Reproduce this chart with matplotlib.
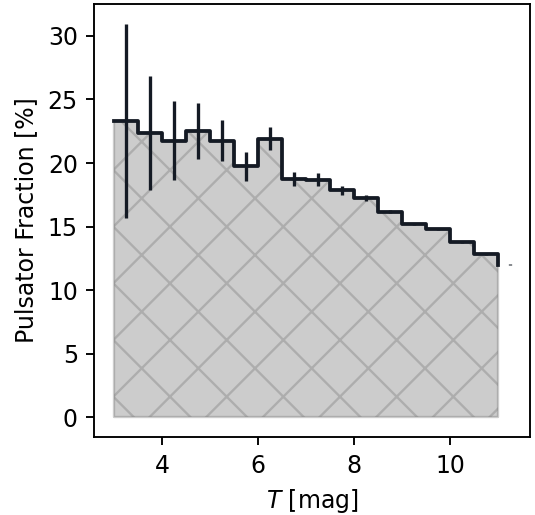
import numpy as np
import matplotlib
matplotlib.use('Agg')
import matplotlib.pyplot as plt

# bin edges in T magnitude and pulsator fraction per bin
t_edges = [3.0, 3.5, 4.0, 4.5, 5.0, 5.5, 6.0, 6.5, 7.0, 7.5, 8.0, 8.5, 9.0, 9.5, 10.0, 10.5, 11.0]
frac = [23.3, 22.35, 21.75, 22.5, 21.75, 19.75, 21.9, 18.75, 18.7, 17.85, 17.25, 16.15, 15.2, 14.8, 13.75, 12.85, 12.0]
frac_err = [7.65, 4.5, 3.1, 2.2, 1.6, 1.15, 0.9, 0.58, 0.5, 0.33, 0.22, 0.12, 0.1, 0.08, 0.07, 0.06, 0.05]

DPI = 170
fig = plt.figure(figsize=(535 / DPI, 515 / DPI), dpi=DPI)
ax = fig.add_axes([0.1766, 0.1515, 0.8141, 0.8405])

t_edges = np.array(t_edges)
ax.fill_between(t_edges, frac, step='post', color='gray', alpha=0.4, hatch='x')
ax.step(t_edges, frac, where='post', color='#141a24', lw=1.6)
ax.errorbar(t_edges + 0.25, frac, yerr=frac_err, fmt='none', ecolor='#141a24', elinewidth=1.4)

ax.set_xlabel('$T$ [mag]', fontsize=10)
ax.set_ylabel('Pulsator Fraction [%]', fontsize=10)
ax.tick_params(labelsize=10)

fig.savefig('out.png', dpi=DPI)
